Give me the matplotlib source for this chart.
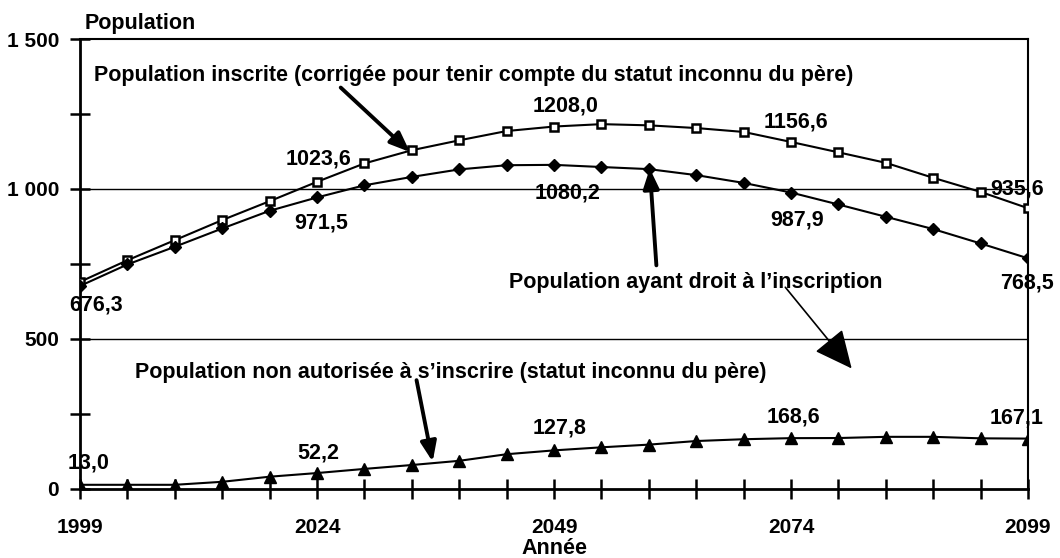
import matplotlib
matplotlib.use("Agg")
import matplotlib.pyplot as plt
from matplotlib.ticker import FixedLocator

plt.rcParams['font.family'] = ['Liberation Sans', 'DejaVu Sans']
plt.rcParams['font.weight'] = 'bold'

years = list(range(1999, 2100, 5))
inscrite = [690, 762, 829, 896, 959, 1023.6, 1085, 1129, 1162, 1193, 1208.0,
            1216, 1212, 1203, 1190, 1156.6, 1122, 1087, 1037, 990, 935.6]
droit = [676.3, 748, 807, 868, 927, 971.5, 1012, 1040, 1065, 1079, 1080.2,
         1073, 1066, 1046, 1020, 987.9, 948, 907, 866, 818, 768.5]
non_aut = [13.0, 13, 13, 23, 40, 52.2, 66, 79, 93, 115, 127.8,
           138, 147, 159, 165, 168.6, 169, 173, 173, 168, 167.1]

xtick_labels = ['1999', '2024', '2049', '2074', '2099']
ytick_labels = ['0', '500', '1 000', '1 500']

# indices of labelled points and their label positions (data coords)
lab_insc = {5: (2024.2, 1099), 10: (2050.2, 1276), 15: (2074.5, 1222), 20: (2097.9, 999)}
lab_droit = {0: (2000.7, 612), 5: (2024.4, 886), 10: (2050.4, 986), 15: (2074.6, 896), 20: (2098.9, 686)}
lab_non = {0: (1999.9, 86), 5: (2024.1, 119), 10: (2049.6, 202), 15: (2074.3, 239), 20: (2097.8, 236)}

fig = plt.figure(figsize=(10.6, 5.58), dpi=100)
ax = fig.add_axes([0.0755, 0.1242, 0.8943, 0.8059])

ax.set_xlim(1999, 2099)
ax.set_ylim(0, 1500)

for yv in (500, 1000):
    ax.axhline(yv, color='black', lw=1.0, zorder=1)

ax.plot(years, inscrite, color='black', lw=1.5, marker='s', markersize=6,
        markerfacecolor='white', markeredgecolor='black', markeredgewidth=1.8, zorder=3)
ax.plot(years, droit, color='black', lw=1.5, marker='D', markersize=6.5,
        markerfacecolor='black', markeredgecolor='black', zorder=3)
ax.plot(years, non_aut, color='black', lw=1.5, marker='^', markersize=8,
        markerfacecolor='black', markeredgecolor='black', zorder=3)

fs = 15.5
tfs = 15
def fmt(v):
    return f"{v:.1f}".replace('.', ',')

for series, labs in ((inscrite, lab_insc), (droit, lab_droit), (non_aut, lab_non)):
    for i, (lx, ly) in labs.items():
        ax.text(lx, ly, fmt(series[i]), ha='center', va='center', fontsize=fs,
                fontweight='bold', zorder=5)

ax.text(2040.5, 1379, "Population inscrite (corrigée pour tenir compte du statut inconnu du père)",
        ha='center', va='center', fontsize=fs, fontweight='bold')
ax.text(2063.9, 689, "Population ayant droit à l\u2019inscription",
        ha='center', va='center', fontsize=fs, fontweight='bold')
ax.text(2038.1, 386, "Population non autorisée à s\u2019inscrire (statut inconnu du père)",
        ha='center', va='center', fontsize=fs, fontweight='bold')

thick = dict(arrowstyle='-|>,head_length=1.0,head_width=0.4', lw=2.8, color='black',
             mutation_scale=12, shrinkA=0, shrinkB=0)
ax.annotate('', xy=(2033.8, 1123), xytext=(2026.5, 1338), arrowprops=thick, zorder=4)
ax.annotate('', xy=(2059.1, 1068), xytext=(2059.8, 745), arrowprops=thick, zorder=4)
ax.annotate('', xy=(2036.2, 90), xytext=(2034.5, 362), arrowprops=thick, zorder=4)
thin = dict(arrowstyle='-|>,head_length=1.7,head_width=0.8', lw=1.2, color='black',
            mutation_scale=14, shrinkA=0, shrinkB=0)
ax.annotate('', xy=(2080.4, 401), xytext=(2073.4, 672), arrowprops=thin, zorder=4)

ax.xaxis.set_major_locator(FixedLocator([1999, 2024, 2049, 2074, 2099]))
ax.set_xticklabels(xtick_labels, fontsize=tfs, fontweight='bold')
ax.xaxis.set_minor_locator(FixedLocator([y for y in years if (y - 1999) % 25 != 0]))
ax.yaxis.set_major_locator(FixedLocator([0, 500, 1000, 1500]))
ax.set_yticklabels(ytick_labels, fontsize=tfs, fontweight='bold')
ax.yaxis.set_minor_locator(FixedLocator([250, 750, 1250]))

ax.tick_params(axis='x', which='both', direction='inout', length=14, width=1.8, pad=14)
ax.tick_params(axis='y', which='both', direction='inout', length=14, width=1.8, pad=8)
ax.tick_params(right=False, top=False, which='both')

for s in ('left', 'bottom'):
    ax.spines[s].set_linewidth(2.0)
for s in ('top', 'right'):
    ax.spines[s].set_linewidth(1.5)

ax.set_xlabel('Année', fontsize=fs, fontweight='bold', labelpad=1)
fig.text(0.132, 0.957, 'Population', ha='center', va='center', fontsize=fs, fontweight='bold')

fig.savefig('out.png', dpi=100)
